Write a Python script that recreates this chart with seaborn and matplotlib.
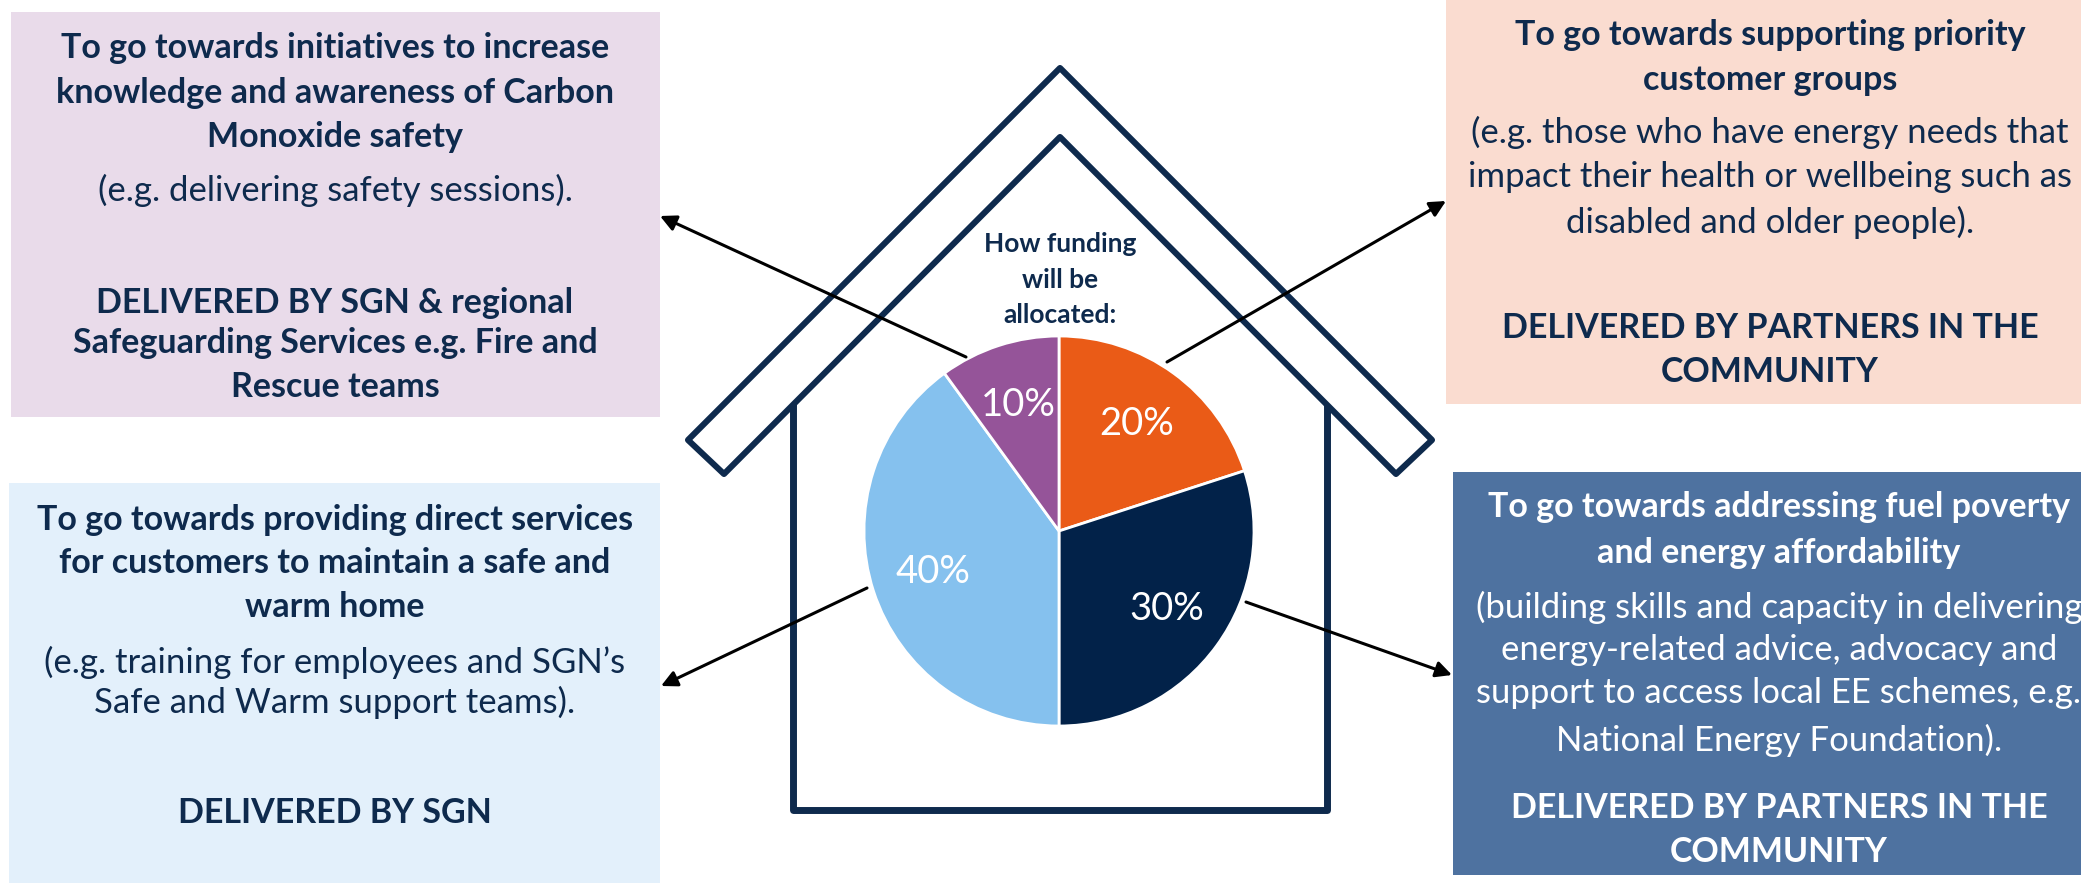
import matplotlib
matplotlib.use("Agg")
import matplotlib.pyplot as plt
import seaborn as sns
from matplotlib.patches import Rectangle, Polygon

sns.set_theme(style="white")
plt.rcParams['font.family'] = ['Lato', 'DejaVu Sans']

W, H = 2081, 883

# pie data
shares = [20, 30, 40, 10]
pie_colors = ['#EA5B17', '#022249', '#85C1EE', '#955499']
pie_title = ['How funding', 'will be', 'allocated:']

navy = '#0E2A4D'

# text blocks, one entry per box: (lines, bold flags)
tl_lines = ['To go towards initiatives to increase',
            'knowledge and awareness of Carbon',
            'Monoxide safety',
            '(e.g. delivering safety sessions).',
            'DELIVERED BY SGN & regional',
            'Safeguarding Services e.g. Fire and',
            'Rescue teams']
tl_bold = [1, 1, 1, 0, 1, 1, 1]

tr_lines = ['To go towards supporting priority',
            'customer groups',
            '(e.g. those who have energy needs that',
            'impact their health or wellbeing such as',
            'disabled and older people).',
            'DELIVERED BY PARTNERS IN THE',
            'COMMUNITY']
tr_bold = [1, 1, 0, 0, 0, 1, 1]

bl_lines = ['To go towards providing direct services',
            'for customers to maintain a safe and',
            'warm home',
            '(e.g. training for employees and SGN\u2019s',
            'Safe and Warm support teams).',
            'DELIVERED BY SGN']
bl_bold = [1, 1, 1, 0, 0, 1]

br_lines = ['To go towards addressing fuel poverty',
            'and energy affordability',
            '(building skills and capacity in delivering',
            'energy-related advice, advocacy and',
            'support to access local EE schemes, e.g.',
            'National Energy Foundation).',
            'DELIVERED BY PARTNERS IN THE',
            'COMMUNITY']
br_bold = [1, 1, 0, 0, 0, 0, 1, 1]


def Y(y):
    # measured from the top of the picture
    return H - y


fig = plt.figure(figsize=(W / 100, H / 100), dpi=100)
ax = fig.add_axes([0, 0, 1, 1])

# boxes: x0, y_top, x1, y_bottom, colour, text colour, centre x, line ys
boxes = [
    (11, 12, 660, 417, '#E9DBEA', navy, 335, [48, 93, 137, 190, 303, 343, 387], tl_lines, tl_bold),
    (1446, 0, 2081, 404, '#FADCD0', navy, 1770, [35, 80, 132, 177, 222, 328, 372], tr_lines, tr_bold),
    (9, 483, 660, 883, '#E3F0FB', navy, 335, [520, 563, 607, 662, 702, 813], bl_lines, bl_bold),
    (1453, 472, 2081, 875, '#4E72A0', 'white', 1779, [507, 553, 607, 650, 693, 740, 808, 852], br_lines, br_bold),
]
for x0, yt, x1, yb, fc, tc, cx, ys, lines, bold in boxes:
    ax.add_patch(Rectangle((x0, Y(yb)), x1 - x0, yb - yt, facecolor=fc, edgecolor='none', zorder=1))
    for txt, yy, b in zip(lines, ys, bold):
        ax.text(cx, Y(yy), txt, ha='center', va='center', color=tc,
                fontsize=24.5 if b else 25, fontweight='bold' if b else 'normal', zorder=2)

# house walls
ax.plot([793, 793, 1327, 1327], [Y(400), Y(810), Y(810), Y(400)], color=navy,
        lw=5, solid_joinstyle='round', solid_capstyle='butt', zorder=3)
# roof chevron
roof = [(1060, 68), (1432, 440), (1396, 474), (1060, 137), (724, 474), (688, 440)]
ax.add_patch(Polygon([(x, Y(y)) for x, y in roof], closed=True, facecolor='white',
                     edgecolor=navy, lw=4.4, joinstyle='round', zorder=4))

# pie
ax.pie(shares, colors=pie_colors, startangle=90, counterclock=False,
       center=(1059, Y(531)), radius=195, autopct=lambda p: f'{p:.0f}%',
       pctdistance=0.68, wedgeprops=dict(edgecolor='white', linewidth=2),
       textprops=dict(color='white', fontsize=27.5), frame=True)
for txt, yy in zip(pie_title, [244, 280, 315]):
    ax.text(1060, Y(yy), txt, ha='center', va='center', color=navy,
            fontsize=19, fontweight='bold', zorder=6)

# arrows
arrows = [((966, 357), (660, 216)), ((1167, 362), (1446, 201)),
          ((867, 588), (661, 686)), ((1246, 602), (1452, 675))]
for (sx, sy), (ex, ey) in arrows:
    ax.annotate('', xy=(ex, Y(ey)), xytext=(sx, Y(sy)),
                arrowprops=dict(arrowstyle='-|>', color='black', lw=2.2,
                                mutation_scale=24, shrinkA=0, shrinkB=0), zorder=7)

ax.set_xlim(0, W)
ax.set_ylim(0, H)
ax.set_aspect('auto')
ax.axis('off')
fig.savefig('out.png', dpi=100)
